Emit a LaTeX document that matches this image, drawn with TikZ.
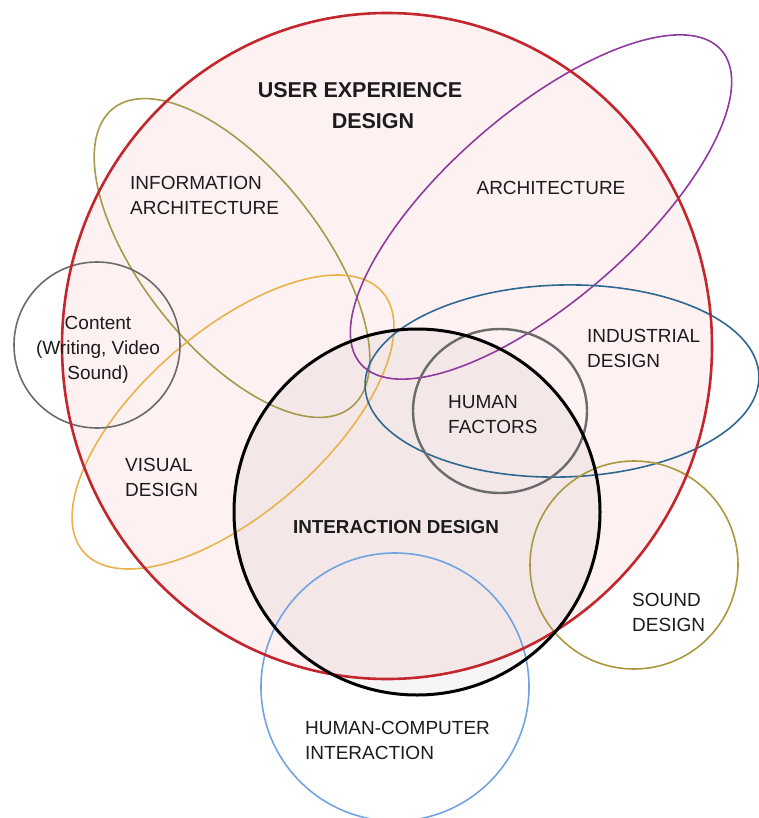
\documentclass[tikz,border=0pt]{standalone}
\usepackage{fontspec}
\setmainfont{Liberation Sans}
\usetikzlibrary{positioning}

\definecolor{uxred}{HTML}{C3262C}
\definecolor{uxfill}{HTML}{FDF2F1}
\definecolor{infoolive}{HTML}{A69B4A}
\definecolor{archpurple}{HTML}{8E3A9E}
\definecolor{ringgray}{HTML}{6B6B6B}
\definecolor{visualorange}{HTML}{E9B24B}
\definecolor{industrialblue}{HTML}{2F6892}
\definecolor{soundolive}{HTML}{A9983E}
\definecolor{hciblue}{HTML}{71A3E2}
\definecolor{textdark}{HTML}{1C1C1C}

\begin{document}
\begin{tikzpicture}[
		x=1pt, y=-1pt,
		% one outline per discipline
		field/.style={line width=1.6pt},
		areatext/.style={font=\fontsize{19}{25}\selectfont, text=textdark, align=left, inner sep=0pt},
		headtext/.style={font=\bfseries\fontsize{21.5}{31}\selectfont, text=textdark, align=center, inner sep=0pt}
		]
		\useasboundingbox (0,0) rectangle (759,818);
		\clip (0,0) rectangle (759,818);
		\pgfmathsetmacro{\InteractionRadius}{183}
		\coordinate (UXCenter) at (387,346);
		\coordinate (IxDCenter) at (417,512);
		% backgrounds
		\fill[uxfill] (UXCenter) ellipse [x radius=325pt, y radius=333pt];
		\fill[black, fill opacity=0.04] (IxDCenter) circle [radius=\InteractionRadius pt];
		% outlines
		\draw[field, infoolive, rotate around={-51.5:(232,258)}] (232,258) ellipse [x radius=191pt, y radius=89pt];
		\draw[field, visualorange, rotate around={41:(233,422)}] (233,422) ellipse [x radius=198pt, y radius=91pt];
		\draw[field, archpurple, rotate around={41:(541,207)}] (541,207) ellipse [x radius=239pt, y radius=94pt];
		\draw[field, industrialblue, rotate around={1.5:(562,381)}] (562,381) ellipse [x radius=197pt, y radius=96pt];
		\draw[field, ringgray] (97,345) circle [radius=83pt];
		\draw[field, soundolive] (634,565) circle [radius=104pt];
		\draw[field, hciblue] (395,687) circle [radius=134pt];
		\draw[line width=2.4pt, ringgray] (500,411) ellipse [x radius=87pt, y radius=82pt];
		\draw[line width=2.6pt, uxred] (UXCenter) ellipse [x radius=325pt, y radius=333pt];
		\draw[line width=3pt, black] (IxDCenter) circle [radius=\InteractionRadius pt];
		% labels
		\node[headtext] (uxd) at (360,106) {USER EXPERIENCE\\\hspace*{26pt}DESIGN};
		\node[areatext, anchor=west] (infoarch) at (130,195) {INFORMATION\\ARCHITECTURE};
		\node[areatext] (arch) at (551,188) {ARCHITECTURE};
		\node[areatext, anchor=west] (industrial) at (587,348) {INDUSTRIAL\\DESIGN};
		\node[areatext, anchor=west] (humanfactors) at (448,415) {HUMAN\\FACTORS};
		\node[areatext, align=center] (content) at (98,350) {Content\\(Writing, Video\\Sound)};
		\node[areatext, anchor=west] (visual) at (125,477) {VISUAL\\DESIGN};
		\node[headtext, font=\bfseries\fontsize{18.8}{25}\selectfont] (ixd) at (396,527) {INTERACTION DESIGN};
		\node[areatext, anchor=west] (hci) at (305,740) {HUMAN-COMPUTER\\INTERACTION};
		\node[areatext, anchor=west] (sound) at (632,612) {SOUND\\DESIGN};
\end{tikzpicture}
\end{document}
